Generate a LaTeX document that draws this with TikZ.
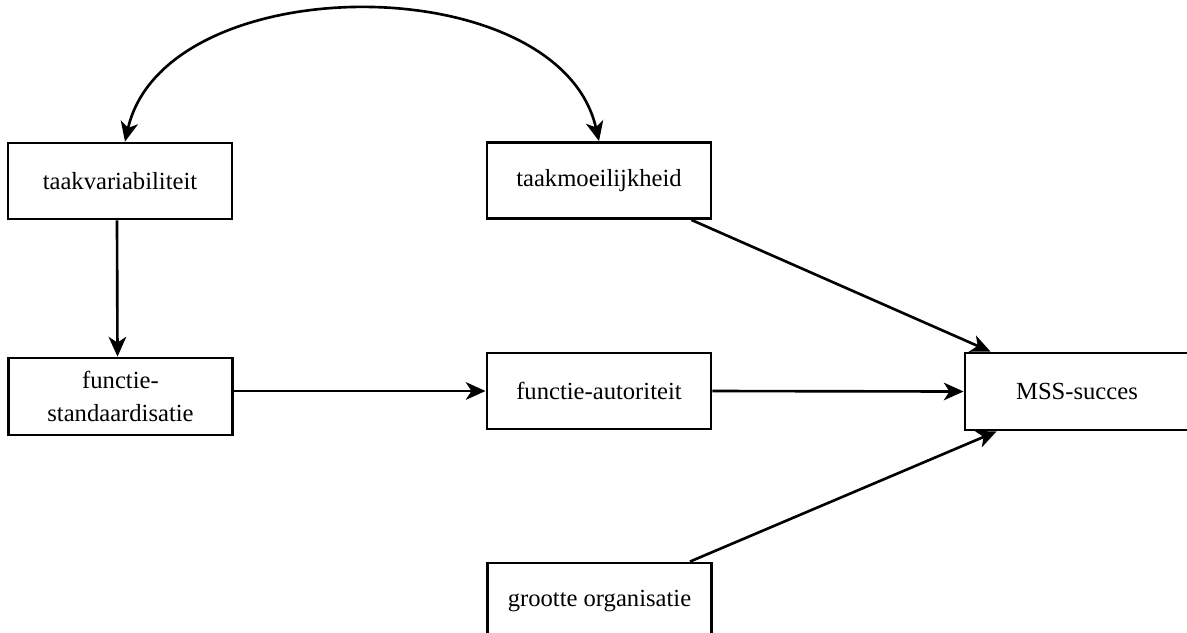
\documentclass[tikz,border=0pt]{standalone}
\usepackage{fontspec}
\setmainfont{Liberation Serif}
\usetikzlibrary{arrows.meta}

\begin{document}
\begin{tikzpicture}[x=0.01cm,y=-0.01cm,
  >={Stealth[length=5.6pt,width=5pt,inset=1.6pt]},
  line width=0.75pt,
  factor/.style={draw,rectangle,line width=0.8pt,minimum width=2.24cm,minimum height=0.76cm,
    inner sep=0pt,align=center,font=\fontsize{7}{9.4}\selectfont}]
\useasboundingbox (0,0) rectangle (1187,632);
\node[factor] (taakvar)   at (120,181)   {taakvariabiliteit};
\node[factor] (taakmoei)  at (599,180.5) {taakmoeilijkheid};
\node[factor,minimum height=0.77cm] (standaard) at (120.5,396.5) {functie-\\standaardisatie};
\node[factor] (autoriteit) at (599,391)  {functie-autoriteit};
\node[factor,minimum height=0.77cm] (succes) at (1077,391.5) {MSS-succes};
\node[factor] (grootte)   at (599.5,601) {grootte organisatie};
\draw[<->] ([xshift=0.05cm]taakvar.north) .. controls +(40,-175) and +(-40,-175) .. (taakmoei.north);
\draw[->] ([xshift=-0.03cm]taakvar.south) -- ([xshift=-0.03cm]standaard.north);
\draw[->] (standaard.east |- autoriteit) -- (autoriteit.west);
\draw[->] (autoriteit.east) -- (succes.west);
\draw[->] ([xshift=-0.21cm]taakmoei.south east) -- ([xshift=0.27cm]succes.north west);
\draw[->] ([xshift=-0.23cm]grootte.north east) -- ([xshift=0.33cm]succes.south west);
\end{tikzpicture}
\end{document}
